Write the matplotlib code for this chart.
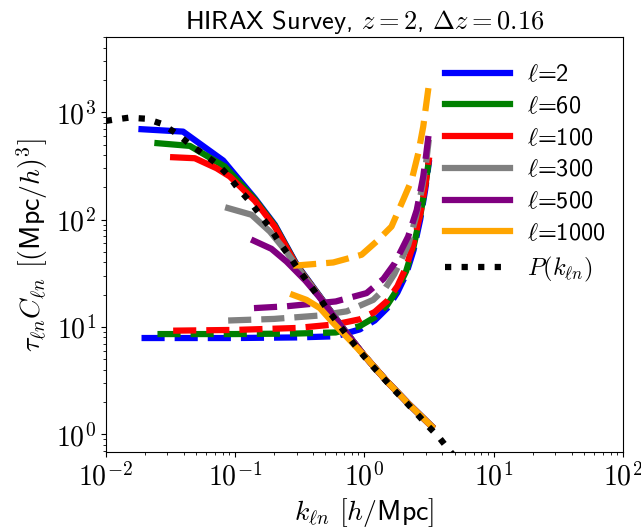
import matplotlib
matplotlib.use("Agg")
import matplotlib.pyplot as plt
from matplotlib.ticker import FuncFormatter, LogLocator
import numpy as np

plt.rcParams['mathtext.fontset'] = 'cm'
plt.rcParams['font.family'] = ['cmss10', 'DejaVu Sans']
plt.rcParams['axes.formatter.use_mathtext'] = True

# ---- data ----
k_P = [0.0100, 0.0113, 0.0151, 0.0206, 0.0271, 0.0348, 0.0441, 0.0566, 0.0727,
       0.0879, 0.1038, 0.1318, 0.155, 0.186, 0.219, 0.262, 0.311, 0.372, 0.440,
       0.525, 0.638, 0.763, 0.923, 1.116, 1.366, 1.671, 2.07, 2.54, 3.12, 3.80,
       4.72, 5.5]
P_k = [830, 850, 890, 870, 780, 640, 510, 410, 330, 260, 200, 145, 112, 84, 62,
       46, 34, 25.5, 19.3, 14.2, 10.5, 7.9, 5.93, 4.53, 3.47, 2.65, 2.03, 1.56,
       1.19, 0.93, 0.67, 0.55]

labels = [r'$\ell$=2', r'$\ell$=60', r'$\ell$=100', r'$\ell$=300', r'$\ell$=500', r'$\ell$=1000']
colors = ['blue', 'green', 'red', 'gray', 'purple', 'orange']

# signal (solid)
k_s_blue = [0.0189, 0.0396, 0.0809, 0.142, 0.203, 0.30, 0.45, 0.7, 1.0, 1.5, 2.2, 3.31]
s_blue = [695, 660, 355, 158, 89.6, 38, 19.5, 9.4, 5.4, 3.1, 1.93, 1.19]
k_s_green = [0.0251, 0.0447, 0.0833, 0.142, 0.203, 0.30, 0.45, 0.7, 1.0, 1.5, 2.2, 3.31]
s_green = [515, 486, 312, 155, 88, 37.5, 19.3, 9.35, 5.4, 3.1, 1.92, 1.19]
k_s_red = [0.0332, 0.0488, 0.0719, 0.091, 0.142, 0.203, 0.30, 0.45, 0.7, 1.0, 1.5, 2.2, 3.31]
s_red = [381, 373, 301, 252, 150, 86, 37, 19.2, 9.3, 5.4, 3.1, 1.92, 1.19]
k_s_gray = [0.0884, 0.134, 0.186, 0.25, 0.35, 0.45, 0.7, 1.0, 1.5, 2.2, 3.31]
s_gray = [128, 111, 77.4, 50, 28.5, 19.1, 9.3, 5.4, 3.1, 1.92, 1.19]
k_s_purple = [0.140, 0.191, 0.250, 0.35, 0.45, 0.7, 1.0, 1.5, 2.2, 3.31]
s_purple = [63.5, 53.5, 40.7, 27, 18.9, 9.3, 5.4, 3.1, 1.92, 1.19]
k_s_orange = [0.281, 0.357, 0.453, 0.574, 0.8, 1.0, 1.5, 2.2, 3.31]
s_orange = [19.9, 17.9, 15.0, 10.9, 7.2, 5.4, 3.1, 1.92, 1.19]

# noise (dashed)
k_n_blue = [0.0189, 0.1, 0.3, 0.6, 0.92, 1.2, 1.5, 1.8, 2.1, 2.4, 2.7, 2.95, 3.17]
n_blue = [7.9, 7.9, 8.0, 8.2, 9.5, 11.5, 15, 21, 31, 52, 100, 190, 360]
k_n_green = [0.0251, 0.1, 0.3, 0.6, 0.92, 1.2, 1.5, 1.8, 2.1, 2.4, 2.7, 2.95, 3.17]
n_green = [8.6, 8.6, 8.7, 8.9, 10.2, 12.3, 16, 22.5, 33, 56, 108, 200, 375]
k_n_red = [0.0332, 0.1, 0.3, 0.6, 0.92, 1.2, 1.5, 1.8, 2.1, 2.4, 2.7, 2.95, 3.17]
n_red = [9.25, 9.4, 9.8, 10.6, 11.8, 13.8, 17.5, 24, 36, 60, 112, 205, 380]
k_n_gray = [0.0884, 0.2, 0.45, 0.73, 1.17, 1.45, 1.7, 2.18, 2.5, 2.8, 3.0, 3.15]
n_gray = [11.5, 11.9, 12.8, 14.0, 17.9, 23, 31, 58, 105, 200, 340, 560]
k_n_purple = [0.14, 0.25, 0.6, 1.04, 1.4, 1.72, 2.18, 2.54, 2.85, 3.0, 3.17]
n_purple = [15.0, 15.6, 17.3, 20.7, 28, 39.4, 69.7, 123, 252, 400, 684]
k_n_orange = [0.281, 0.574, 0.951, 1.24, 1.62, 1.995, 2.32, 2.61, 2.85, 3.16]
n_orange = [37.2, 39.9, 47.1, 62.5, 86.2, 153, 234, 416, 735, 1850]

signal = [(k_s_blue, s_blue), (k_s_green, s_green), (k_s_red, s_red),
          (k_s_gray, s_gray), (k_s_purple, s_purple), (k_s_orange, s_orange)]
noise = [(k_n_blue, n_blue), (k_n_green, n_green), (k_n_red, n_red),
         (k_n_gray, n_gray), (k_n_purple, n_purple), (k_n_orange, n_orange)]

# ---- plot ----
fig = plt.figure(figsize=(6.41, 5.31), dpi=100)
ax = fig.add_axes([0.165, 0.148, 0.807, 0.782])
lw = 4.5
for (ks, s), (kn, n), c, lab in zip(signal, noise, colors, labels):
    ax.plot(ks, s, color=c, lw=lw, label=lab)
    ax.plot(kn, n, color=c, lw=lw, ls='--')
ax.plot(k_P, P_k, color='black', lw=lw, ls=':', label=r'$P(k_{\ell n})$')

ax.set_xscale('log')
ax.set_yscale('log')
ax.set_xlim(1e-2, 1e2)
ax.set_ylim(0.68, 5000)

def logfmt(v, pos):
    e = int(np.round(np.log10(v)))
    return r'$10^{%d}$' % e

for axis in (ax.xaxis, ax.yaxis):
    axis.set_major_locator(LogLocator(base=10, numticks=10))
    axis.set_major_formatter(FuncFormatter(logfmt))
ax.tick_params(axis='both', which='major', labelsize=20)
ax.set_xlabel(r'$k_{\ell n}$ $[h/$Mpc$]$', fontsize=20)
ax.set_ylabel(r'$\tau_{\ell n} C_{\ell n}$ $[($Mpc$/h)^3]$', fontsize=20)
ax.set_title(r'HIRAX Survey, $z=2$, $\Delta z=0.16$', fontsize=19)
ax.legend(loc='upper right', bbox_to_anchor=(1.0, 0.976), frameon=False,
          fontsize=17.5, handlelength=2.7, labelspacing=0.40,
          borderaxespad=0.3, handletextpad=0.7)

fig.savefig('out.png', dpi=100)
